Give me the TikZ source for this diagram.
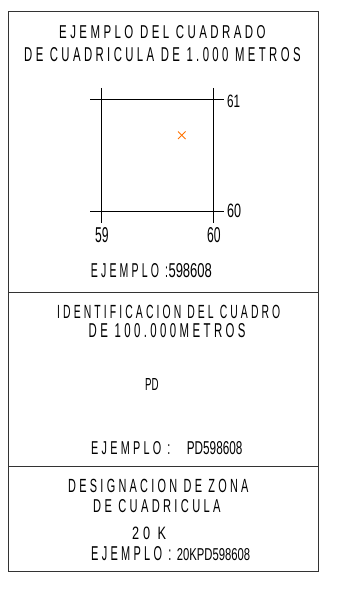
\documentclass[tikz,border=0pt]{standalone}
\usepackage{fontspec}
\setmainfont{Liberation Sans}
\newfontfamily\cadspaced{Liberation Sans}[LetterSpace=30]
\newcommand\fitbox[3]{\resizebox{#1pt}{#2pt}{\cadspaced\fontsize{10}{12}\selectfont #3\kern-3pt}}
\newcommand\fitnum[3]{\resizebox{#1pt}{#2pt}{\fontsize{10}{12}\selectfont #3}}
\begin{document}
\begin{tikzpicture}[x=1pt,y=-1pt,
  lbl/.style={inner sep=0pt, anchor=base west},
  frame/.style={draw=black!80, line width=0.9pt},
  gridline/.style={draw=black, line width=1.1pt},
  mark cross/.style={draw=orange!90!red, line width=0.8pt}]
\useasboundingbox (0,0) rectangle (339,591);
\fill[white] (0,0) rectangle (339,591);
% frame and dividers
\draw[frame] (8.3,11.7) rectangle (318,571.7);
\draw[frame] (8.3,292) -- (318,292);
\draw[frame] (8.3,466.5) -- (318,466.5);
% section 1
\node[lbl] (t1) at (59,39) {\fitbox{203}{13}{EJEMPLO DEL CUADRADO}};
\node[lbl] (t2) at (24,62) {\fitbox{273}{14}{DE CUADRICULA DE 1.000 METROS}};
\draw[gridline] (101.7,88) -- (101.7,223);
\draw[gridline] (213.7,88) -- (213.7,223);
\draw[gridline] (90,99.5) -- (224,99.5);
\draw[gridline] (90,211.5) -- (224,211.5);
\node[lbl] (n61) at (227,107.5) {\fitnum{13}{12.5}{61}};
\node[lbl] (n60r) at (227,217) {\fitnum{14}{13.5}{60}};
\node[lbl] (n59) at (95,242) {\fitnum{13.5}{15}{59}};
\node[lbl] (n60b) at (207,242) {\fitnum{13.5}{15}{60}};
\draw[mark cross] (178,131.5) -- (185.5,139);
\draw[mark cross] (178,139) -- (185.5,131.5);
\node[lbl] (e1a) at (90.7,277) {\fitbox{74}{14}{EJEMPLO :}};
\node[lbl] (e1b) at (168.3,277) {\fitnum{43.5}{14}{598608}};
% section 2
\node[lbl] (t3) at (57,318.3) {\fitbox{220}{13.3}{IDENTIFICACION DEL CUADRO}};
\node[lbl] (t4) at (88.5,337) {\fitbox{153.5}{14}{DE 100.000METROS}};
\node[lbl] (pd) at (145,390) {\fitnum{13.5}{12}{PD}};
\node[lbl] (e2a) at (91,454.5) {\fitbox{76}{13}{EJEMPLO :}};
\node[lbl] (e2b) at (186.7,454.5) {\fitnum{55.5}{13}{PD598608}};
% section 3
\node[lbl] (t5) at (68,492.3) {\fitbox{177}{13.3}{DESIGNACION DE ZONA}};
\node[lbl] (t6) at (93,512) {\fitbox{124}{13}{DE CUADRICULA}};
\node[lbl] (zk) at (132,539.5) {\fitbox{30}{12.5}{20 K}};
\node[lbl] (e3a) at (91,560) {\fitbox{77}{14}{EJEMPLO :}};
\node[lbl] (e3b) at (176.7,560) {\fitnum{73.3}{12}{20KPD598608}};
\end{tikzpicture}
\end{document}
